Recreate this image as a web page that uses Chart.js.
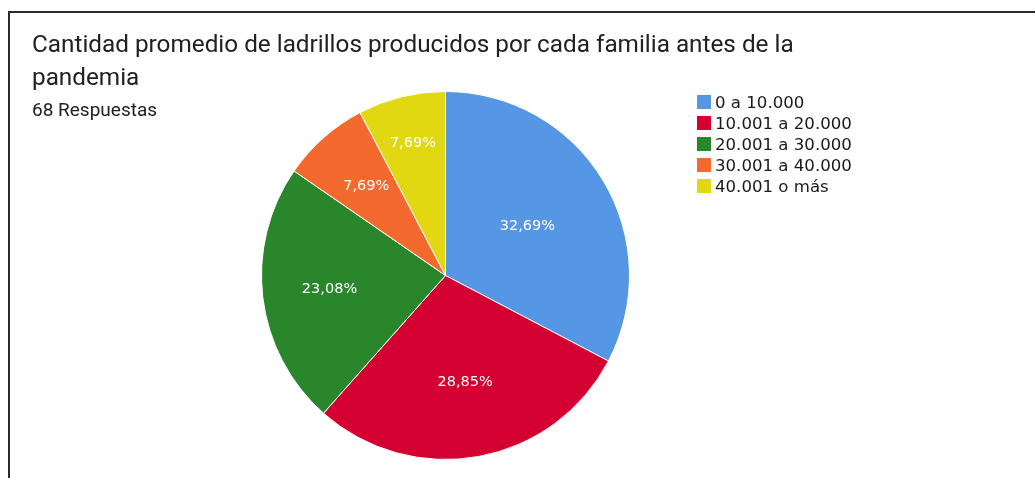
<!DOCTYPE html>
<html>
<head>
<meta charset="utf-8">
<script src="https://cdn.jsdelivr.net/npm/chart.js@4.4.1/dist/chart.umd.min.js"></script>
<style>
  body { margin: 0; background: #fff; }
  #wrap { position: relative; width: 1035px; height: 478px; overflow: hidden; }
  #frame { position: absolute; left: 8px; top: 11px; right: -10px; bottom: -10px;
           border-top: 2px solid #2b2b2b; border-left: 2px solid #2b2b2b; }
  #title { position: absolute; left: 32px; top: 27px; font-family: Roboto, sans-serif;
           font-size: 24.3px; line-height: 33px; color: #202124; width: 800px; }
  #subtitle { position: absolute; left: 32px; top: 98px; font-family: Roboto, sans-serif;
              font-size: 19px; color: #202124; }
  #legend { position: absolute; left: 697px; top: 92px; font-family: "DejaVu Sans", Verdana, sans-serif;
            font-size: 16.6px; color: #1a1a1a; }
  #legend .row { height: 21px; line-height: 21px; white-space: nowrap; }
  #legend .box { display: inline-block; width: 14px; height: 14px; margin-right: 4px; vertical-align: -1px; }
  canvas { position: absolute; left: 0; top: 0; }
</style>
</head>
<body>
<div id="wrap">
  <div id="frame"></div>
  <canvas id="chart" width="1035" height="478"></canvas>
  <div id="title">Cantidad promedio de ladrillos producidos por cada familia antes de la pandemia</div>
  <div id="subtitle">68 Respuestas</div>
  <div id="legend"></div>
</div>
<script>
const categories = ['0 a 10.000', '10.001 a 20.000', '20.001 a 30.000', '30.001 a 40.000', '40.001 o más'];
const counts = [17, 15, 12, 4, 4];
const colors = ['#5596e5', '#d50032', '#2a862a', '#f46a2e', '#e2d811'];
// where each label sits along the radius (fraction of outer radius)
const labelRadius = [0.52, 0.59, 0.635, 0.65, 0.74];

const legendEl = document.getElementById('legend');
categories.forEach((c, i) => {
    const row = document.createElement('div');
    row.className = 'row';
    row.innerHTML = `<span class="box" style="background:${colors[i]}"></span>${c}`;
    legendEl.appendChild(row);
});

const sliceLabels = {
    id: 'sliceLabels',
    afterDatasetsDraw(chart) {
        const ctx = chart.ctx;
        const data = chart.data.datasets[0].data;
        const total = data.reduce((a, b) => a + b, 0);
        ctx.save();
        ctx.font = '14.5px "DejaVu Sans", Verdana, sans-serif';
        ctx.fillStyle = '#ffffff';
        ctx.textAlign = 'center';
        ctx.textBaseline = 'middle';
        chart.getDatasetMeta(0).data.forEach((arc, i) => {
            const p = arc.getProps(['x', 'y', 'startAngle', 'endAngle', 'outerRadius']);
            const mid = (p.startAngle + p.endAngle) / 2;
            const r = p.outerRadius * labelRadius[i];
            const txt = (data[i] / total * 100).toFixed(2).replace('.', ',') + '%';
            ctx.fillText(txt, p.x + Math.cos(mid) * r, p.y + Math.sin(mid) * r);
        });
        ctx.restore();
    }
};

new Chart(document.getElementById('chart').getContext('2d'), {
    type: 'pie',
    data: {
        labels: categories,
        datasets: [{
            data: counts,
            backgroundColor: colors,
            borderColor: '#ffffff',
            borderWidth: 1
        }]
    },
    options: {
        responsive: false,
        animation: false,
        layout: { padding: { top: 91, bottom: 18, left: 261, right: 405 } },
        plugins: {
            legend: { display: false },
            tooltip: { enabled: false }
        }
    },
    plugins: [sliceLabels]
});
</script>
</body>
</html>
